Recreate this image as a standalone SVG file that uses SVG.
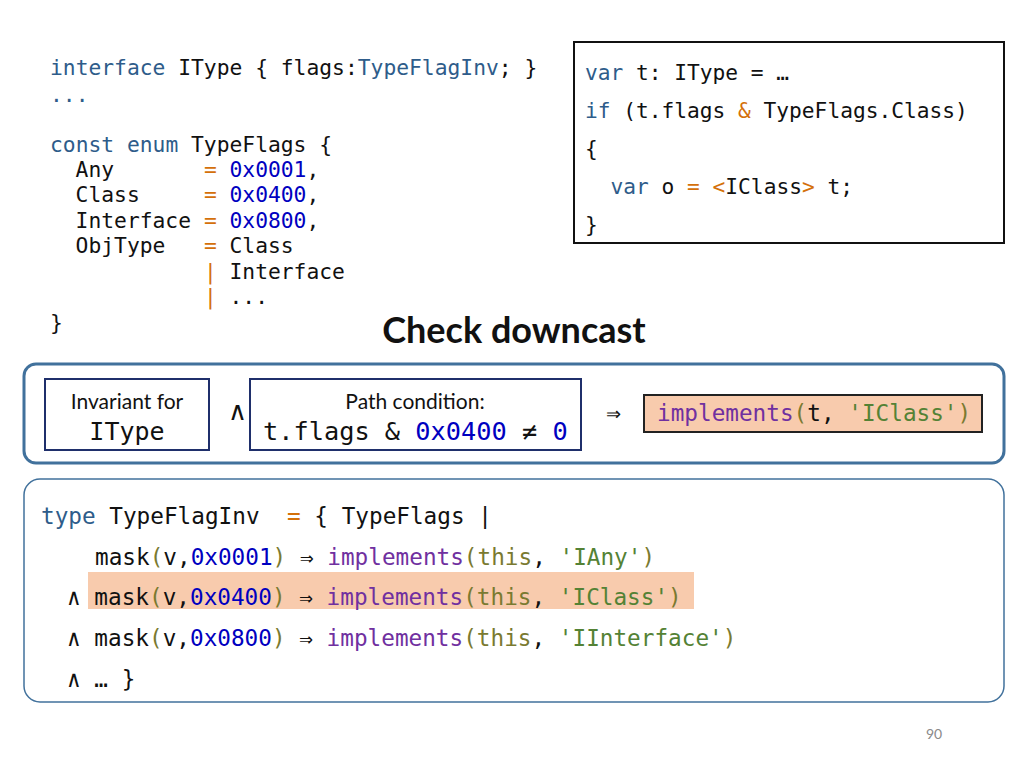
<svg xmlns="http://www.w3.org/2000/svg" width="1024" height="768" viewBox="0 0 1024 768">
<style>
.m{font-family:"DejaVu Sans Mono",monospace;fill:#111;white-space:pre}
.s{font-family:Lato,"Liberation Sans",sans-serif;fill:#111}
.k{fill:#2E5C8A}.n{fill:#0000C0}.o{fill:#D4700A}.p{fill:#7030A0}.g{fill:#548235}.q{fill:#7A7A30}
</style>
<rect width="1024" height="768" fill="#fff"/>
<g id="code-left" class="m" font-size="21.3">
<text x="50" y="75"><tspan class="k">interface</tspan> IType { flags:<tspan class="k">TypeFlagInv</tspan>; }</text>
<text x="50" y="102" class="k">...</text>
<text x="50" y="152"><tspan class="k">const enum</tspan> TypeFlags {</text>
<text y="177"><tspan x="75.6">Any</tspan><tspan x="203.9" class="o">=</tspan><tspan x="229.5" class="n">0x0001</tspan>,</text>
<text y="202"><tspan x="75.6">Class</tspan><tspan x="203.9" class="o">=</tspan><tspan x="229.5" class="n">0x0400</tspan>,</text>
<text y="228"><tspan x="75.6">Interface</tspan><tspan x="203.9" class="o">=</tspan><tspan x="229.5" class="n">0x0800</tspan>,</text>
<text y="253"><tspan x="75.6">ObjType</tspan><tspan x="203.9" class="o">=</tspan><tspan x="229.5">Class</tspan></text>
<text y="279"><tspan x="203.9" class="o">|</tspan><tspan x="229.5">Interface</tspan></text>
<text y="304"><tspan x="203.9" class="o">|</tspan><tspan x="229.5">...</tspan></text>
<text x="50" y="330">}</text>
</g>
<g id="code-right">
<rect x="574" y="42" width="430" height="201" fill="#fff" stroke="#111" stroke-width="2"/>
<g class="m" font-size="21.2">
<text x="585" y="80"><tspan class="k">var</tspan> t: IType = …</text>
<text x="585" y="118"><tspan class="k">if</tspan> (t.flags <tspan class="o">&amp;</tspan> TypeFlags.Class)</text>
<text x="585" y="156">{</text>
<text x="610.5" y="194"><tspan class="k">var</tspan> o <tspan class="o">=</tspan> <tspan class="o">&lt;</tspan>IClass<tspan class="o">&gt;</tspan> t;</text>
<text x="585" y="232">}</text>
</g>
</g>
<text id="title" x="514" y="343" text-anchor="middle" class="s" font-size="36" font-weight="bold">Check downcast</text>
<g id="check">
<rect x="24" y="364" width="980" height="99" rx="12" fill="#fff" stroke="#41719C" stroke-width="3"/>
<g id="inv"><rect x="45" y="379" width="164" height="71" fill="#fff" stroke="#1F2F6B" stroke-width="2"/>
<text x="127" y="409" text-anchor="middle" class="s" font-size="21">Invariant for</text>
<text x="127" y="440" text-anchor="middle" class="m" font-size="25">IType</text></g>
<text x="237" y="420" text-anchor="middle" class="s" font-size="26">∧</text>
<g id="path"><rect x="250" y="379" width="331" height="71" fill="#fff" stroke="#1F2F6B" stroke-width="2"/>
<text x="415" y="409" text-anchor="middle" class="s" font-size="21">Path condition:</text>
<text x="263" y="440" class="m" font-size="25.3">t.flags &amp; <tspan class="n">0x0400</tspan> ≠ <tspan class="n">0</tspan></text></g>
<text x="613" y="420" text-anchor="middle" class="s" font-size="18">⇒</text>
<g id="impl"><rect x="644" y="395" width="338" height="37" fill="#F8CBAD" stroke="#222" stroke-width="2"/>
<text x="657" y="421" class="m" font-size="22.7"><tspan class="p">implements</tspan><tspan class="q">(</tspan>t, <tspan class="g">'IClass'</tspan><tspan class="q">)</tspan></text></g>
</g>
<g id="inv-def">
<rect x="24" y="479" width="980" height="223" rx="16" fill="#fff" stroke="#41719C" stroke-width="1.5"/>
<rect x="88" y="572" width="606" height="37" fill="#F8CBAD"/>
<g class="m" font-size="22.7">
<text y="524"><tspan x="41" class="k">type</tspan> TypeFlagInv<tspan x="287" class="o">=</tspan> { TypeFlags |</text>
<text x="95" y="565">mask<tspan class="q">(</tspan>v,<tspan class="n">0x0001</tspan><tspan class="q">)</tspan> ⇒ <tspan class="p">implements</tspan><tspan class="q">(this</tspan>, <tspan class="g">'IAny'</tspan><tspan class="q">)</tspan></text>
<text x="67" y="605">∧ mask<tspan class="q">(</tspan>v,<tspan class="n">0x0400</tspan><tspan class="q">)</tspan> ⇒ <tspan class="p">implements</tspan><tspan class="q">(this</tspan>, <tspan class="g">'IClass'</tspan><tspan class="q">)</tspan></text>
<text x="67" y="646">∧ mask<tspan class="q">(</tspan>v,<tspan class="n">0x0800</tspan><tspan class="q">)</tspan> ⇒ <tspan class="p">implements</tspan><tspan class="q">(this</tspan>, <tspan class="g">'IInterface'</tspan><tspan class="q">)</tspan></text>
<text x="67" y="687">∧ … }</text>
</g>
</g>
<text x="934" y="739" text-anchor="middle" class="s" font-size="14" style="fill:#8a8a8a">90</text>
</svg>
